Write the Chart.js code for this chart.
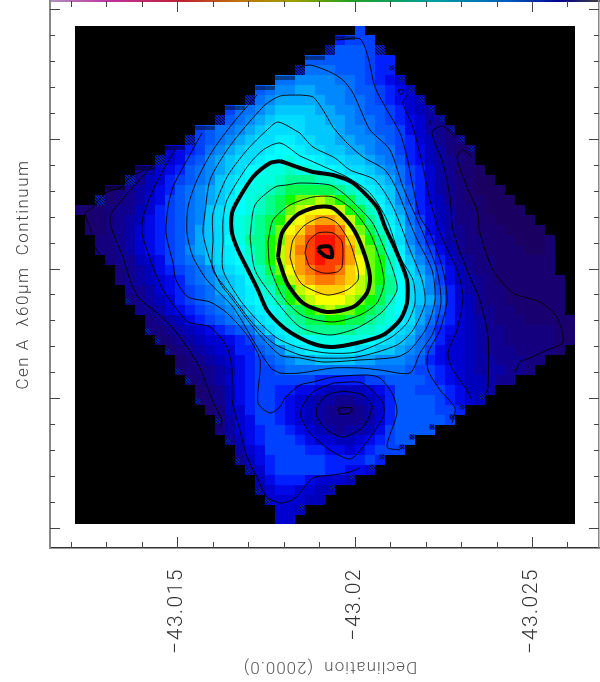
<!DOCTYPE html>
<html>
<head>
<meta charset="utf-8">
<title>Cen A 60um continuum</title>
<script src="https://cdn.jsdelivr.net/npm/chart.js@4"></script>
<style>
  html, body { margin: 0; padding: 0; background: #fff; }
  canvas { display: block; }
</style>
</head>
<body>
<canvas id="mapChart" width="600" height="682"></canvas>
<script>
// tick positions
const decMajorTicks = [-43.015, -43.02, -43.025];
const decMinorTicks = [-43.012, -43.013, -43.014, -43.016, -43.017, -43.018, -43.019, -43.021, -43.022, -43.023, -43.024, -43.026];
const raMajorTicks = [0, 5, 10, 15, 20];
const raMinorTicks = [1, 2, 3, 4, 6, 7, 8, 9, 11, 12, 13, 14, 16, 17, 18, 19];

// first filled column of every image row
const rowStarts = [28,26,25,23,22,20,18,17,15,14,12,11,9,8,6,5,3,2,0,1,1,2,2,3,4,4,5,5,6,7,7,8,9,10,10,11,12,12,13,14,14,15,16,16,17,18,18,19,20,20];

// flux level of the filled cells, read row by row (0 faint .. 31 peak)
const fluxRows = [
  [9],
  [8,9,9,9],
  [9,10,10,10,9,8],
  [10,10,10,10,10,10,9,8,8],
  [11,11,11,11,10,10,10,9,8,8],
  [11,11,12,12,12,12,11,11,10,9,8,7,6],
  [10,11,12,12,13,13,12,12,12,11,10,10,9,8,7,6],
  [10,11,12,13,13,13,13,13,12,12,11,11,10,9,8,7,6,5],
  [9,11,11,12,13,14,14,14,14,13,13,12,12,11,10,10,9,8,6,5,4],
  [9,10,11,12,13,14,15,15,15,14,14,13,13,12,11,11,10,9,8,7,6,4,3],
  [9,10,11,11,12,13,14,15,15,15,15,14,14,14,13,12,12,11,10,10,9,7,6,4,3,2],
  [8,9,10,11,12,13,14,15,15,16,16,15,15,14,14,13,13,12,12,11,10,9,8,6,5,3,2,2],
  [6,7,8,9,11,12,13,14,15,15,16,17,17,16,15,15,14,14,13,13,12,11,11,9,8,7,5,4,2,1,1],
  [5,6,7,9,10,12,13,14,15,15,16,17,17,18,17,17,16,15,15,14,14,13,12,11,10,8,7,5,4,3,2,1],
  [3,4,6,7,8,10,11,12,13,14,15,17,17,18,18,19,18,18,17,17,16,15,15,14,13,12,11,9,8,6,4,3,1,1,0],
  [3,3,5,6,8,9,10,11,12,14,15,16,17,18,18,19,20,20,20,19,19,18,17,16,15,14,13,11,9,8,6,4,3,2,1,0,0],
  [1,2,3,4,5,7,8,10,11,12,13,14,15,17,18,18,19,20,21,21,21,21,21,20,19,18,16,15,14,12,10,8,6,4,3,2,1,0,0,0],
  [1,1,2,3,4,6,7,9,10,11,12,13,14,16,17,18,19,20,21,22,23,23,24,23,22,21,19,18,16,14,12,10,8,6,5,3,2,1,1,0,0,0],
  [1,1,1,2,3,3,5,6,8,9,10,11,12,14,15,16,17,18,19,20,21,23,24,25,25,25,24,22,21,19,17,15,13,11,8,7,5,4,2,2,1,0,0,0,0],
  [1,1,2,3,4,5,7,8,9,10,11,12,14,15,16,18,19,20,21,22,24,25,26,27,27,26,24,22,20,18,16,14,11,9,7,5,4,2,2,1,1,0,0,0,0],
  [1,1,2,3,4,6,7,8,9,10,11,13,14,15,16,18,19,20,21,23,25,26,28,29,29,28,25,23,21,19,17,15,12,10,7,6,4,3,2,1,1,1,0,0,0,0],
  [2,2,3,4,6,7,8,9,10,11,13,14,15,17,18,20,20,22,23,26,27,29,30,30,29,26,24,22,20,18,15,12,10,8,6,4,3,2,2,1,1,1,0,0,0,1],
  [2,2,3,4,6,7,8,9,10,12,13,14,15,16,17,19,20,22,24,26,28,29,30,30,29,27,24,23,21,18,16,13,11,9,7,5,3,2,2,1,1,1,1,0,0,1],
  [2,3,3,5,6,7,9,10,11,12,14,15,16,17,18,20,22,24,26,27,29,30,29,29,27,25,23,22,19,17,14,12,10,8,6,4,3,2,2,1,1,1,1,1,1],
  [2,3,4,5,7,8,9,10,11,12,14,15,16,18,19,21,23,25,27,28,29,29,28,26,25,23,22,19,17,15,13,11,9,7,5,3,2,2,1,1,1,1,1,1],
  [2,3,4,5,6,7,8,10,11,12,13,14,15,17,19,20,22,24,26,27,28,28,27,26,24,23,22,20,17,15,14,12,9,7,5,4,3,2,1,1,1,1,1,1,1],
  [3,3,4,6,7,8,9,10,11,13,14,15,16,18,19,21,22,24,25,26,26,26,25,24,23,21,20,17,15,14,12,10,8,6,4,3,2,2,1,1,1,1,1,1],
  [2,3,4,5,6,8,9,10,11,12,13,15,16,17,18,20,22,23,24,25,25,25,24,23,22,21,19,17,15,14,13,11,8,6,5,3,2,2,1,1,1,1,1,1],
  [3,3,4,6,7,8,9,10,11,12,13,15,16,17,18,20,21,22,23,24,23,23,22,21,20,18,17,15,13,12,10,8,6,5,3,3,2,2,1,1,1,1,1],
  [2,3,4,5,7,8,9,10,11,12,13,15,16,18,19,20,21,21,22,22,21,21,20,19,18,16,15,13,11,9,8,6,5,4,3,2,2,2,1,1,1,1,1],
  [2,2,3,4,5,6,7,8,9,10,11,13,15,16,18,19,20,20,20,20,20,19,19,18,16,15,14,12,10,8,7,6,5,4,3,3,2,2,2,2,2,1,1],
  [1,2,3,4,5,6,6,7,8,9,11,12,15,16,17,17,18,18,18,18,18,17,16,15,14,13,11,10,8,6,6,5,4,3,3,2,2,2,2,2,1,1],
  [1,2,3,4,5,6,6,8,8,10,11,12,14,15,16,16,16,16,16,15,15,14,14,13,12,11,9,7,6,6,5,4,3,3,3,2,2,2,2,1],
  [1,2,3,4,5,6,7,8,9,10,11,12,13,13,14,14,14,14,13,13,12,12,12,11,10,8,7,6,6,5,4,4,3,3,3,2,2],
  [1,2,2,3,4,5,7,8,9,9,10,11,11,11,11,11,11,11,11,11,11,11,11,10,9,9,8,7,6,5,4,4,4,3,3,2],
  [1,2,3,4,6,7,8,9,9,9,9,9,9,8,8,8,8,8,9,9,10,10,10,10,9,8,7,6,5,5,4,3,3],
  [1,2,3,5,7,8,9,9,8,8,7,7,6,5,5,5,5,6,7,8,10,10,9,9,9,8,7,5,5,4],
  [1,2,3,5,7,8,9,9,8,7,6,5,4,4,3,3,4,5,6,8,10,10,10,10,9,8,7,6,5],
  [1,2,5,6,8,9,9,8,7,6,5,4,3,2,2,3,4,6,8,10,10,10,10,9,9,8],
  [2,4,6,7,9,9,8,7,6,5,4,3,3,3,3,4,6,8,10,10,10,10,10,9],
  [2,4,6,7,8,9,9,8,7,6,5,4,3,4,4,5,7,9,10,10,10,10],
  [3,5,7,8,9,9,9,8,7,6,6,5,5,6,7,8,9,10,10],
  [4,6,7,9,9,9,9,8,8,7,7,6,7,8,9,9,9],
  [3,5,7,8,9,9,9,9,9,8,8,8,8,9,8],
  [4,6,8,9,9,9,9,9,8,8,7,7,6],
  [5,7,8,8,8,7,6,6,6,5],
  [4,6,7,7,6,6,5,5],
  [6,6,6,6,5,5],
  [6,6,5],
  [6,6]
];

// contours as flat lists: offset east, offset south from the image corner
const contourThin = [
  [7.0,14.4, 5.5,15.1, 4.5,16.2, 3.2,16.6, 1.7,18.2, 1,18.7, 1.5,20.1, 2,22.1, 3.2,23.7],
  [8,13.7, 5.8,16.1, 4,18.2, 3.5,19.1, 3.7,20.4, 4.8,23.1, 5.5,25.4, 6.3,27.1, 8.2,28.7, 9.7,30.1, 11.2,32.1, 12.5,34.2, 13.8,37.6, 14.7,39.4, 14.5,40.1],
  [10,12.4, 9,14.1, 7.8,16.4, 6.8,19.1, 6.7,20.7, 7.2,22.4, 7.8,24.1, 8.8,26.4, 10,28.1, 11.3,29.6, 13.5,30.1, 15.2,32.1, 15.7,34.4, 15.7,37.4, 16.3,39.7, 17.2,43.1, 18.2,45.1, 19.2,47.1, 20.7,47.7, 22,47.2, 23.8,45.2, 25.8,44.9, 27.5,44.6, 28.5,44.2],
  [12.7,10.7, 11.2,13.4, 9.8,16.1, 9.3,18.1, 9.1,20.7, 9.8,23.7, 10.1,25.4, 11.3,27.1, 13.5,27.6, 15.2,28.7, 17.2,30.9, 18.5,33.4, 18.3,37.7, 19.5,38.7, 20.5,38.1, 21,37.2, 22.5,35.9, 23.8,35.6, 25.8,35.1, 29.2,34.9, 30.5,35.2, 31.8,36.9, 32.2,38.7, 31.2,42.1, 32.5,42.4],
  [18.2,6.9, 15.8,9.7, 13.8,12.4, 12.2,15.4, 11.3,18.1, 11.2,20.7, 11.8,23.1, 13.2,25.4, 15.8,28.1, 17.8,31.4, 19.5,34.1, 20.5,34.7, 22.5,34.7, 25.8,34.2, 28.5,34.2, 30.5,34.4, 33.5,34.7, 34.5,32.7, 35.8,30.7, 36.6,27.7, 36.2,24.4, 34.8,20.7, 32.8,16.1, 31.5,12.4, 29.5,10.4, 28.7,8.7, 27.8,6.7, 26.8,5.4, 25.5,4.6, 23.5,3.9, 22.2,4.2],
  [22.5,6.9, 23.8,7.1, 24.8,8.4, 25.8,10.1, 27.2,11.7, 28.8,13.1, 31,14.4, 32.2,16.4, 34,20.9, 35.7,24.4, 36,27.4, 35.2,30.1, 33.5,32.4, 32.2,33.1, 28.5,33.4, 24.8,33.6, 22.5,33.2, 20.5,32.9, 17.8,30.1, 15.8,27.4, 14.5,25.7, 13.5,23.4, 12.8,20.7, 13,18.7, 13.5,15.4, 15,12.7, 16.5,10.7, 19,7.9, 20.5,7, 22.5,6.9],
  [22.5,10.7, 23.8,12.1, 26,13.2, 27.5,14.4, 30,15.4, 31.8,18.1, 33.5,22.4, 34.7,25.4, 35,27.7, 33.8,30.4, 32.2,31.9, 28.2,33.1, 24.5,33.2, 22.5,32.9, 19.8,31.7, 17.5,29.4, 15.8,27.1, 13.8,24.4, 13.8,21.4, 13.8,18.7, 15.2,15.1, 17.2,12.4, 19.2,10.4, 20.3,9.6, 22.5,10.7],
  [22.5,13, 25.2,14.2, 27.2,15.1, 29.5,16.7, 31.2,19.4, 32.5,23.1, 33.8,25.4, 34,27.7, 33.2,29.7, 31.5,31.2, 28.2,32.6, 25.2,32.7, 22.5,32.2, 20.2,31.2, 18.2,29.4, 16.5,27.4, 14.8,24.4, 14.8,21.4, 14.8,19.4, 15.2,17.4, 17.2,14.1, 18.8,12.4, 20.5,11.7, 22.5,13],
  [17.5,21.1, 18,17.9, 20,16.1, 21.2,15.9, 22.5,15.7, 25.5,15.9, 26.8,16.7, 27.8,17.6, 29.7,19.6, 31,22.4, 31.8,24.4, 32.2,26.4, 30.7,28.6, 28.2,30.2, 25.5,30.9, 22.5,30.1, 19.8,27.1, 18,24.4, 17.5,21.1],
  [19.3,21.6, 19.8,19.4, 21.5,17.9, 23.8,17.1, 25.8,17.1, 27.8,18.4, 29.5,20.7, 30.5,23.4, 30.9,25.7, 30.2,27.7, 28.5,28.9, 25.8,29.6, 22.8,29, 20.8,27.1, 19.5,24.1, 19.3,21.6],
  [21.5,23.1, 21.8,21.4, 23,19.9, 24.8,19.1, 26.2,19.7, 27.5,21.7, 28.3,24.4, 28.3,25.4, 27.2,26.4, 25.2,26.9, 22.8,25.9, 22,24.7, 21.5,23.1],
  [23,22.7, 23.3,21.6, 24.3,20.7, 25.8,20.7, 26.7,21.6, 26.7,24.1, 26.2,24.6, 24.8,24.7, 23.5,24.1, 23,22.7],
  [25.8,35.7, 28.7,35.7, 30.8,37.7, 30.8,39.1, 28.8,42.1, 27.5,43.3, 25.5,42.4, 23.5,40.7, 22.6,39.1, 22.7,38.1, 23.8,36.6, 25.8,35.7],
  [26.8,36.5, 28.8,36.9, 29.7,38.1, 28.8,40.1, 26.8,41.1, 25.2,40.4, 24.2,39.1, 24.2,38.1, 25.2,36.9, 26.8,36.5],
  [26.3,38.2, 27.7,38.2, 27.5,38.7, 26.5,38.8, 26.3,38.2],
  [37.7,39.7, 38,38.2, 36.5,36.4, 35.3,34.4, 35.3,32.7, 36.5,30.4, 37.2,27.4, 36.8,24.4, 35.5,20.7, 34.5,19.1, 33.8,16.1, 33.2,13.1, 32.5,10.7, 31.2,8.4, 30,6.1, 29.3,3.1, 28.5,1.3, 26.2,1.4],
  [39.7,37.4, 39.2,36.4, 37.8,34.4, 37.3,32.7, 38.2,30.4, 38.8,27.1, 38.2,24.4, 36.5,20.7, 35.5,17.4, 34.8,14.1, 33.8,10.1, 32.8,7.7, 33.3,6.8],
  [32.3,6.4, 32.9,6.4, 32.6,6.9, 32.3,6.4],
  [41,36.9, 41.3,36.1, 41.3,31.1, 40.5,27.4, 39.2,24.4, 37.8,20.4, 37.5,17.1, 36.8,13.7, 35.7,10.6, 36.8,10, 38,11.1],
  [35.5,9.4, 35.5,9.9],
  [39.7,13.1, 38.8,12.4, 38.2,13.1, 39.2,16.1, 40.2,18.4, 40.5,20.7, 41.8,24.4, 43.8,26.7, 46.5,27.6, 48.2,29.1, 48.8,31.6, 47.2,32.4, 45.5,33.2, 44.5,33.6, 44,34.7]
];
const contourThick = [
  [20.5,13.5, 22.5,14.2, 23.8,14.6, 25.8,14.9, 27.8,15.7, 30.2,18.1, 31,20.1, 32.2,22.7, 33.2,25.4, 33.2,27.7, 32.5,29.4, 30.8,30.9, 28.2,31.7, 25.8,32.1, 24.2,31.9, 22.5,31.2, 20.8,30.1, 19.2,28.4, 18.3,26.4, 17.3,24.4, 16.3,22.4, 15.7,20.7, 15.7,18.7, 16.3,17.4, 17.8,15.1, 19.5,13.7, 20.5,13.5],
  [20.3,23.1, 20.7,20.7, 22.2,18.9, 24.2,18.1, 25.8,18.2, 27.7,20.1, 28.8,22.4, 29.5,25.1, 29.2,26.7, 27.8,28.1, 25.2,28.6, 22.8,27.7, 21.2,25.7, 20.3,23.1],
  [24.3,22.4, 24.5,22.1, 25.5,22.1, 25.7,23.1, 25,23, 24.3,22.4]
];

// cells along the map edge where the contours pile up and look hatched
const hatchedCells = [[2,17],[5,15],[8,13],[11,11],[14,9],[17,7],[22,4],[25,2],[30,2]];
const hatchedCorners = [[31.7,4.2],[32.7,5.3],[33.7,6.3],[34.7,7.3],[35.7,8.3],[36.7,9.3],[37.7,10.3],[38.7,11.3],[39.7,12.3],
  [22.7,48.1],[25.7,46.1],[27.7,45.1],[29.7,44.1],[30.7,43.1],[32.7,42.1],[33.7,41.1],[35.7,40.1],[37.7,39.1],[38.7,38.1],[40.7,37.1],
  [5.3,27.5],[7.3,30.5],[8.3,31.5],[9.3,32.5],[10.3,34.5],[11.3,35.5],[12.3,37.5],[14.3,39.5],[15.3,41.5],[16.3,43.5],[17.3,44.5],[18.3,46.5],[19.3,47.5]];
const doubleSteps = [[3,16],[6,14],[9,12],[12,10],[15,8],[18,6],[20,5],[23,3],[26,1]];

// rainbow lookup for the flux levels
const levelColors = ['#1a0060','#180070','#14007f','#100090','#0800a5','#0000bb','#0000d0','#0008e8','#0020ff','#0040ff',
  '#0058ff','#0070ff','#0088ff','#00a8ff','#00c8ff','#00dcff','#00f0ff','#00ffff','#00ffe0','#00ffc0',
  '#00ff90','#00ff50','#10ff00','#70ff00','#c0ff00','#f8ff00','#ffd000','#ffa000','#ff7800','#ff4000','#ff1000','#ff0000'];

// map image offsets onto the axis units
function offToDec(off) { return -43.015 - (75 + off * 10 - 177.2) / 35.48 * 0.001; }
function offToRa(off) { return (26 + off * 10 - 9.3) / 25.92; }

const cells = [];
const cellColors = [];
for (let r = 0; r < 50; r++) {
    for (let c = 0; c < 50; c++) {
        let level = null;
        if (c >= rowStarts[r] && c - rowStarts[r] < fluxRows[r].length) {
            level = fluxRows[r][c - rowStarts[r]];
        }
        cells.push({ x: offToDec(c + 0.5), y: offToRa(r + 0.4) });
        cellColors.push(level === null ? '#000000' : levelColors[level]);
    }
}

function contourDataset(flat, width) {
    let pts = [];
    for (let i = 0; i < flat.length; i += 2) {
        pts.push({ x: offToDec(flat[i]), y: offToRa(flat[i + 1]) });
    }
    return {
        data: pts, showLine: true, borderColor: '#000', borderWidth: width,
        pointRadius: 0, tension: 0.25, order: 1, borderJoinStyle: 'round'
    };
}

function hatchPattern() {
    let tile = document.createElement('canvas');
    tile.width = 3; tile.height = 3;
    let t = tile.getContext('2d');
    t.fillStyle = '#0020b8';
    t.fillRect(0, 0, 3, 3);
    t.fillStyle = '#000030';
    t.fillRect(0, 0, 1, 1); t.fillRect(1, 1, 1, 1); t.fillRect(2, 2, 1, 1);
    return t.createPattern(tile, 'repeat');
}

function hatchDataset(points, side) {
    return {
        data: points.map(p => ({ x: offToDec(p[0]), y: offToRa(p[1]) })),
        pointStyle: 'rect', pointRadius: side * Math.SQRT1_2, pointBorderWidth: 0,
        pointBackgroundColor: hatchPattern(), showLine: false, order: 5
    };
}

function topBarGradient(chart) {
    let g = chart.ctx.createLinearGradient(50, 0, 599, 0);
    g.addColorStop(0, '#b090c0');
    g.addColorStop(0.11, '#c030a0');
    g.addColorStop(0.24, '#c02030');
    g.addColorStop(0.34, '#c07010');
    g.addColorStop(0.44, '#a0a000');
    g.addColorStop(0.55, '#20a020');
    g.addColorStop(0.70, '#00a0a0');
    g.addColorStop(0.83, '#0060c0');
    g.addColorStop(0.93, '#000090');
    g.addColorStop(1, '#404040');
    return g;
}

// ticks point inward on all four sides, majors are longer
const insideTicks = {
    id: 'insideTicks',
    beforeDraw: function (chart) { chart.ctx.letterSpacing = '1.5px'; },
    afterDraw: function (chart) {
        let ctx = chart.ctx, a = chart.chartArea, sx = chart.scales.x, sy = chart.scales.y;
        ctx.save();
        ctx.lineWidth = 1;
        ctx.strokeStyle = '#444';
        ctx.beginPath();
        function xTick(v, len) {
            let p = Math.round(sx.getPixelForValue(v)) + 0.5;
            ctx.moveTo(p, a.bottom); ctx.lineTo(p, a.bottom - len);
            ctx.moveTo(p, a.top); ctx.lineTo(p, a.top + len);
        }
        function yTick(v, len) {
            let p = Math.round(sy.getPixelForValue(v)) + 0.5;
            ctx.moveTo(a.left, p); ctx.lineTo(a.left + len, p);
            ctx.moveTo(a.right, p); ctx.lineTo(a.right - len, p);
        }
        decMajorTicks.forEach(v => xTick(v, 11));
        decMinorTicks.forEach(v => xTick(v, 6));
        raMajorTicks.forEach(v => yTick(v, 10));
        raMinorTicks.forEach(v => yTick(v, 5));
        ctx.stroke();

        // the PGPLOT bottom label comes out upside down
        ctx.translate(330, 666);
        ctx.rotate(Math.PI);
        ctx.font = '300 17px Roboto';
        ctx.letterSpacing = '1px';
        ctx.fillStyle = '#555';
        ctx.textAlign = 'center';
        ctx.textBaseline = 'middle';
        ctx.fillText('Declination  (2000.0)', 0, 0);
        ctx.restore();
    }
};

const xBounds = { min: offToDec(52.4), max: offToDec(-2.5), reverse: true };
const yBounds = { min: offToRa(-2.5), max: offToRa(52.2), reverse: true };
const noGrid = { drawOnChartArea: false, drawTicks: false };

const stubLines = [];
doubleSteps.forEach(s => {
    stubLines.push([s[0], s[1] + 0.1, s[0] + 2, s[1] + 0.1]);
    stubLines.push([s[0], s[1] + 0.3, s[0] + 2, s[1] + 0.3]);
});

new Chart(document.getElementById('mapChart'), {
    type: 'scatter',
    data: {
        datasets: [
            {
                data: cells, pointStyle: 'rect', pointRadius: 10 * Math.SQRT1_2,
                pointBackgroundColor: cellColors, pointBorderWidth: 0, showLine: false, order: 10,
                clip: { left: -25, top: -25, right: -24, bottom: -24 }
            },
            hatchDataset(hatchedCells.map(c => [c[0] + 0.5, c[1] + 0.4]), 10),
            hatchDataset(hatchedCorners, 5)
        ].concat(contourThin.map(c => contourDataset(c, 0.9)))
         .concat(stubLines.map(c => contourDataset(c, 0.9)))
         .concat(contourThick.map(c => contourDataset(c, 4)))
    },
    plugins: [insideTicks],
    options: {
        responsive: false,
        animation: false,
        events: [],
        layout: { autoPadding: false, padding: { top: 1, left: 0, right: 0, bottom: 0 } },
        plugins: { legend: { display: false }, tooltip: { enabled: false } },
        scales: {
            x: {
                type: 'linear', position: 'bottom', ...xBounds,
                grid: noGrid,
                border: { color: '#333', width: 1.5 },
                afterBuildTicks: s => { s.ticks = decMajorTicks.map(v => ({ value: v })); },
                afterFit: s => { s.height = 134; },
                ticks: {
                    autoSkip: false, minRotation: 90, maxRotation: 90, padding: 20,
                    color: '#333', font: { family: 'Roboto', weight: 300, size: 21 },
                    callback: v => '\u2212' + Math.abs(v).toString()
                }
            },
            xTop: {
                type: 'linear', position: 'top', ...xBounds,
                grid: noGrid,
                border: { color: c => topBarGradient(c.chart), width: 2 },
                afterFit: s => { s.height = 0; },
                ticks: { display: false }
            },
            y: {
                type: 'linear', position: 'left', ...yBounds,
                grid: noGrid,
                border: { color: '#888', width: 2 },
                afterFit: s => { s.width = 50; },
                ticks: { display: false },
                title: {
                    display: true, text: 'Cen A  \u03bb60\u03bcm  Continuum', color: '#444',
                    padding: { top: 14, bottom: 0 },
                    font: { family: 'Roboto', weight: 300, size: 17 }
                }
            },
            yRight: {
                type: 'linear', position: 'right', ...yBounds,
                grid: noGrid,
                border: { color: '#888', width: 1.5 },
                afterFit: s => { s.width = 1; },
                ticks: { display: false }
            }
        }
    }
});
</script>
</body>
</html>
